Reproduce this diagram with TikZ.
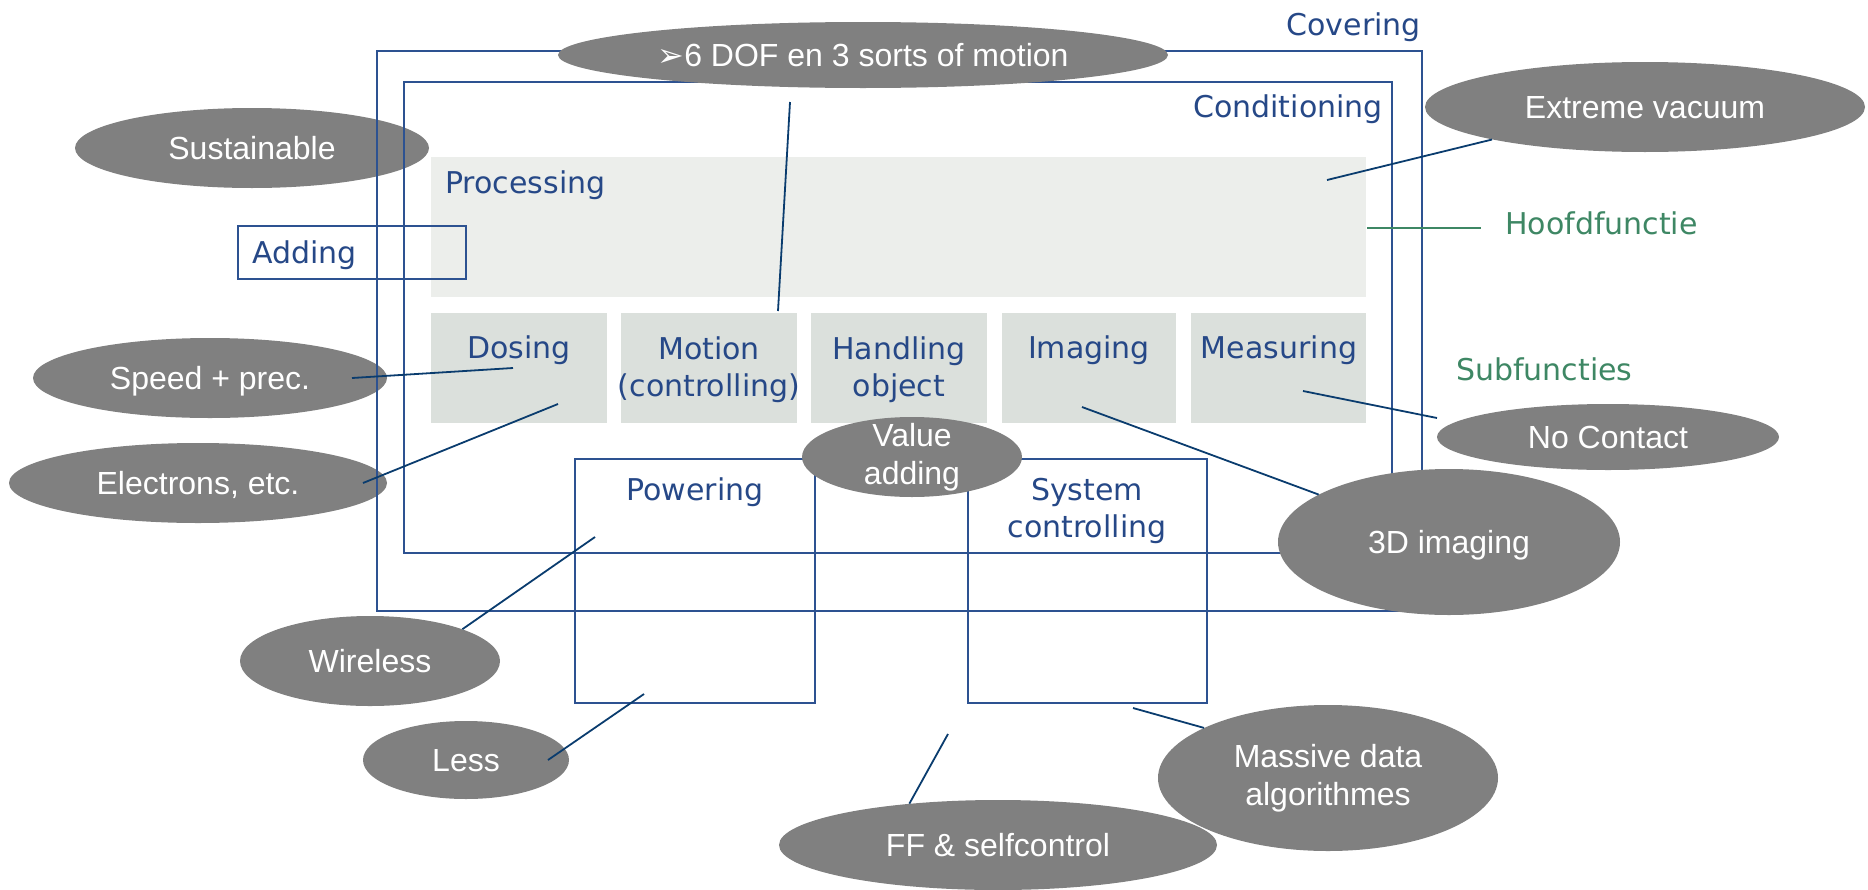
\documentclass[tikz,border=0pt]{standalone}
\usepackage{fontspec}
\setmainfont{Liberation Sans}
\newfontfamily\labelfont{DejaVu Sans}
\usetikzlibrary{shapes.geometric}

\definecolor{framecol}{RGB}{45,82,145}
\definecolor{labelcol}{RGB}{38,72,135}
\definecolor{linkcol}{RGB}{10,60,110}
\definecolor{greencol}{RGB}{62,135,100}
\definecolor{mainfill}{RGB}{236,238,235}
\definecolor{subfill}{RGB}{219,224,220}
\definecolor{bubblefill}{RGB}{128,128,128}

\newcommand\bubblesize{\fontsize{32}{38}\selectfont}
\newcommand\labelsize{\labelfont\fontsize{30}{37}\selectfont}

\tikzset{
  frame/.style={draw=framecol, line width=2.2pt},
  lbl/.style={text=labelcol, font=\labelsize, inner sep=0pt},
  bubble/.style={ellipse, fill=bubblefill, text=white, font=\bubblesize, inner sep=0pt},
  oneline/.style={text height=23pt, text depth=0pt},
  link/.style={draw=linkcol, line width=1.8pt},
}

\begin{document}
\begin{tikzpicture}[x=1pt, y=-1pt]
\useasboundingbox (0,0) rectangle (1868,889);

\node[bubble, oneline, minimum width=354pt, minimum height=80pt] (sustain) at (252,148) {Sustainable};
\node[bubble, oneline, minimum width=354pt, minimum height=80pt] (speed) at (210,378) {Speed + prec.};
\node[bubble, oneline, minimum width=378pt, minimum height=80pt] (electrons) at (198,483) {Electrons, etc.};

% function blocks
\fill[mainfill] (431,157) rectangle (1366,297);
\fill[subfill] (431,313) rectangle (607,423);
\fill[subfill] (621,313) rectangle (797,423);
\fill[subfill] (811,313) rectangle (987,423);
\fill[subfill] (1002,313) rectangle (1176,423);
\fill[subfill] (1191,313) rectangle (1366,423);

\draw[frame] (377,51) rectangle (1422,611);
\draw[frame] (404,82) rectangle (1392,553);
\draw[frame] (238,226) rectangle (466,279);
\draw[frame] (575,459) rectangle (815,703);
\draw[frame] (968,459) rectangle (1207,703);

\node[lbl, anchor=base east] (covering) at (1421,35) {Covering};
\node[lbl, anchor=base east] (conditioning) at (1383,117) {Conditioning};
\node[lbl, anchor=base west] (processing) at (445,193) {Processing};
\node[lbl, anchor=base west] (adding) at (252,263) {Adding};
\node[lbl, anchor=base] (dosing) at (519,358) {Dosing};
\node[lbl, align=center] (motion) at (709,370) {Motion\\(controlling)};
\node[lbl, align=center] (handling) at (899,370) {Handling\\object};
\node[lbl, anchor=base] (imaging) at (1089,358) {Imaging};
\node[lbl, anchor=base] (measuring) at (1279,358) {Measuring};
\node[lbl, anchor=base] (powering) at (695,500) {Powering};
\node[lbl, align=center] (syscontrol) at (1087,511) {System\\controlling};
\node[lbl, text=greencol, anchor=base west] (hoofd) at (1505,234) {Hoofdfunctie};
\node[lbl, text=greencol, anchor=base west] (subf) at (1456,380) {Subfuncties};

\coordinate (hoofdpt) at (1367,228);
\draw[draw=greencol, line width=2.2pt, shorten >=24pt] (hoofdpt) -- (hoofdpt -| hoofd.west);

\node[bubble, oneline, minimum width=610pt, minimum height=66pt] (dof) at (863,55) {{\labelfont ➢}6 DOF en 3 sorts of motion};
\node[bubble, oneline, minimum width=440pt, minimum height=90pt] (vacuum) at (1645,107) {Extreme vacuum};
\node[bubble, oneline, minimum width=342pt, minimum height=66pt] (nocontact) at (1608,437) {No Contact};
\node[bubble, oneline, minimum width=342pt, minimum height=146pt] (imaging3d) at (1449,542) {3D imaging};
\node[bubble, align=center, inner ysep=-16pt, minimum width=220pt, minimum height=80pt] (valueadd) at (912,457) {Value\\adding};
\node[bubble, oneline, minimum width=260pt, minimum height=90pt] (wireless) at (370,661) {Wireless};
\node[bubble, oneline, minimum width=206pt, minimum height=78pt] (less) at (466,760) {Less};
\node[bubble, oneline, minimum width=438pt, minimum height=90pt] (selfctrl) at (998,845) {FF \& selfcontrol};
\node[bubble, align=center, minimum width=340pt, minimum height=146pt] (massive) at (1328,778) {Massive data\\algorithmes};

\coordinate (dofend) at (790,102);
\coordinate (motionpt) at (778,311);
\coordinate (procpt) at (1327,180);
\coordinate (speedpt) at (352,378);
\coordinate (dosingpt) at (513,368);
\coordinate (electronpt) at (363,483);
\coordinate (dosingpt2) at (558,404);
\coordinate (measurept) at (1303,391);
\coordinate (nocontactpt) at (1437,418);
\coordinate (imagingpt) at (1082,407);
\coordinate (poweringpt) at (595,537);
\coordinate (lesspt) at (548,760);
\coordinate (poweringpt2) at (644,694);
\coordinate (gappt) at (948,734);
\coordinate (systempt) at (1133,708);

\draw[link] (dofend) -- (motionpt);
\draw[link] (procpt) -- (vacuum.192);
\draw[link] (speedpt) -- (dosingpt);
\draw[link] (electronpt) -- (dosingpt2);
\draw[link] (measurept) -- (nocontactpt);
\draw[link] (imagingpt) -- (imaging3d.160);
\draw[link] (poweringpt) -- (wireless.19);
\draw[link] (lesspt) -- (poweringpt2);
\draw[link] (gappt) -- (selfctrl.155);
\draw[link] (systempt) -- (massive.158);
\end{tikzpicture}
\end{document}
